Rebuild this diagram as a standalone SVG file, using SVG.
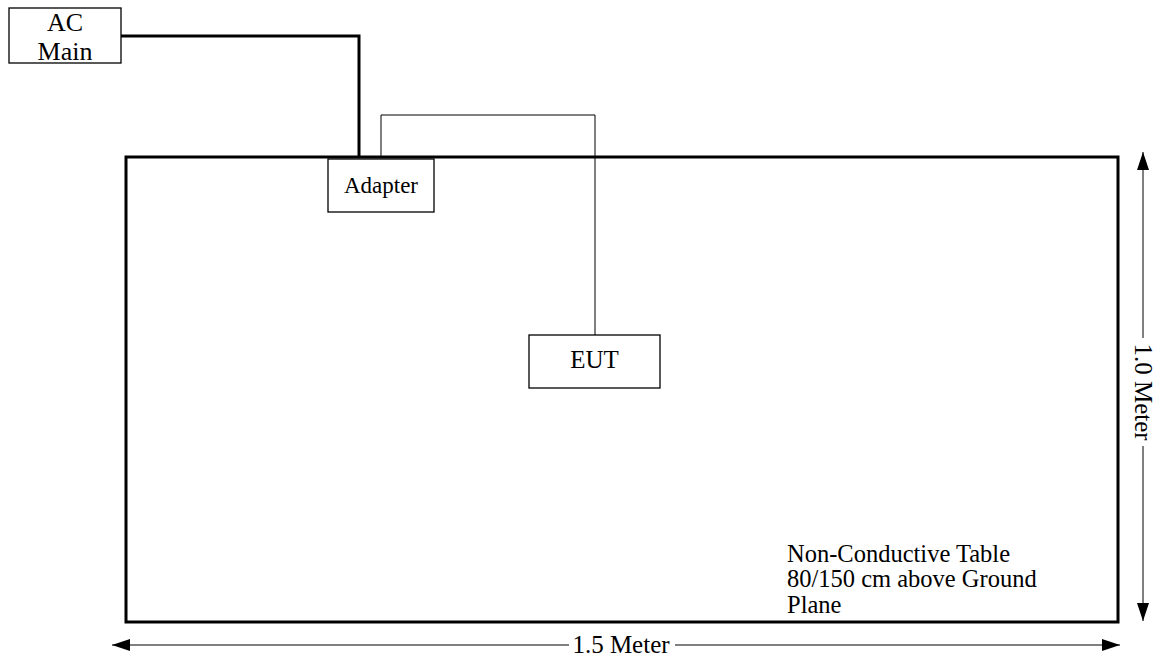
<svg xmlns="http://www.w3.org/2000/svg" width="1155" height="656" viewBox="0 0 1155 656">
<style>
.box{fill:#fff;stroke:#000;stroke-width:1.3}
.t{font-family:"Liberation Serif",serif;fill:#000}
.thick{fill:none;stroke:#000;stroke-width:3}
.thin{fill:none;stroke:#000;stroke-width:1}
</style>
<defs>
<marker id="ah" viewBox="0 0 18 12" refX="18" refY="6" markerWidth="18" markerHeight="12" markerUnits="userSpaceOnUse" orient="auto-start-reverse">
<path d="M0,0 L18,6 L0,12 z" fill="#000"/>
</marker>
</defs>
<rect width="1155" height="656" fill="#fff"/>
<g id="table">
<rect x="126" y="157" width="992" height="465" fill="none" stroke="#000" stroke-width="3"/>
<text class="t" font-size="24.5" x="787" y="562">Non-Conductive Table</text>
<text class="t" font-size="24.5" x="787" y="587">80/150 cm above Ground</text>
<text class="t" font-size="24.5" x="787" y="613">Plane</text>
</g>
<g id="connectors">
<polyline class="thick" points="121,36 359,36 359,158"/>
<polyline class="thin" points="381,158 381,115 595,115 595,335"/>
<line class="thin" x1="1143" y1="152" x2="1143" y2="621" marker-start="url(#ah)" marker-end="url(#ah)"/>
<line class="thin" x1="112" y1="645" x2="1120" y2="645" marker-start="url(#ah)" marker-end="url(#ah)"/>
</g>
<g id="ac-main">
<rect class="box" x="9" y="8" width="112" height="55"/>
<text class="t" font-size="26" x="65" y="31" text-anchor="middle">AC</text>
<text class="t" font-size="26" x="65" y="60" text-anchor="middle">Main</text>
</g>
<g id="adapter">
<rect class="box" x="328" y="159" width="106" height="53"/>
<text class="t" font-size="23" x="381" y="193" text-anchor="middle">Adapter</text>
</g>
<g id="eut">
<rect class="box" x="529" y="335" width="131" height="53"/>
<text class="t" font-size="25" x="594.5" y="368" text-anchor="middle">EUT</text>
</g>
<g id="dim-labels">
<rect x="569" y="635" width="106" height="21" fill="#fff"/>
<text class="t" font-size="25" x="621" y="653" text-anchor="middle">1.5 Meter</text>
<rect x="1132" y="338" width="23" height="108" fill="#fff"/>
<text class="t" font-size="25" transform="translate(1135,392) rotate(90)" text-anchor="middle">1.0 Meter</text>
</g>
</svg>
